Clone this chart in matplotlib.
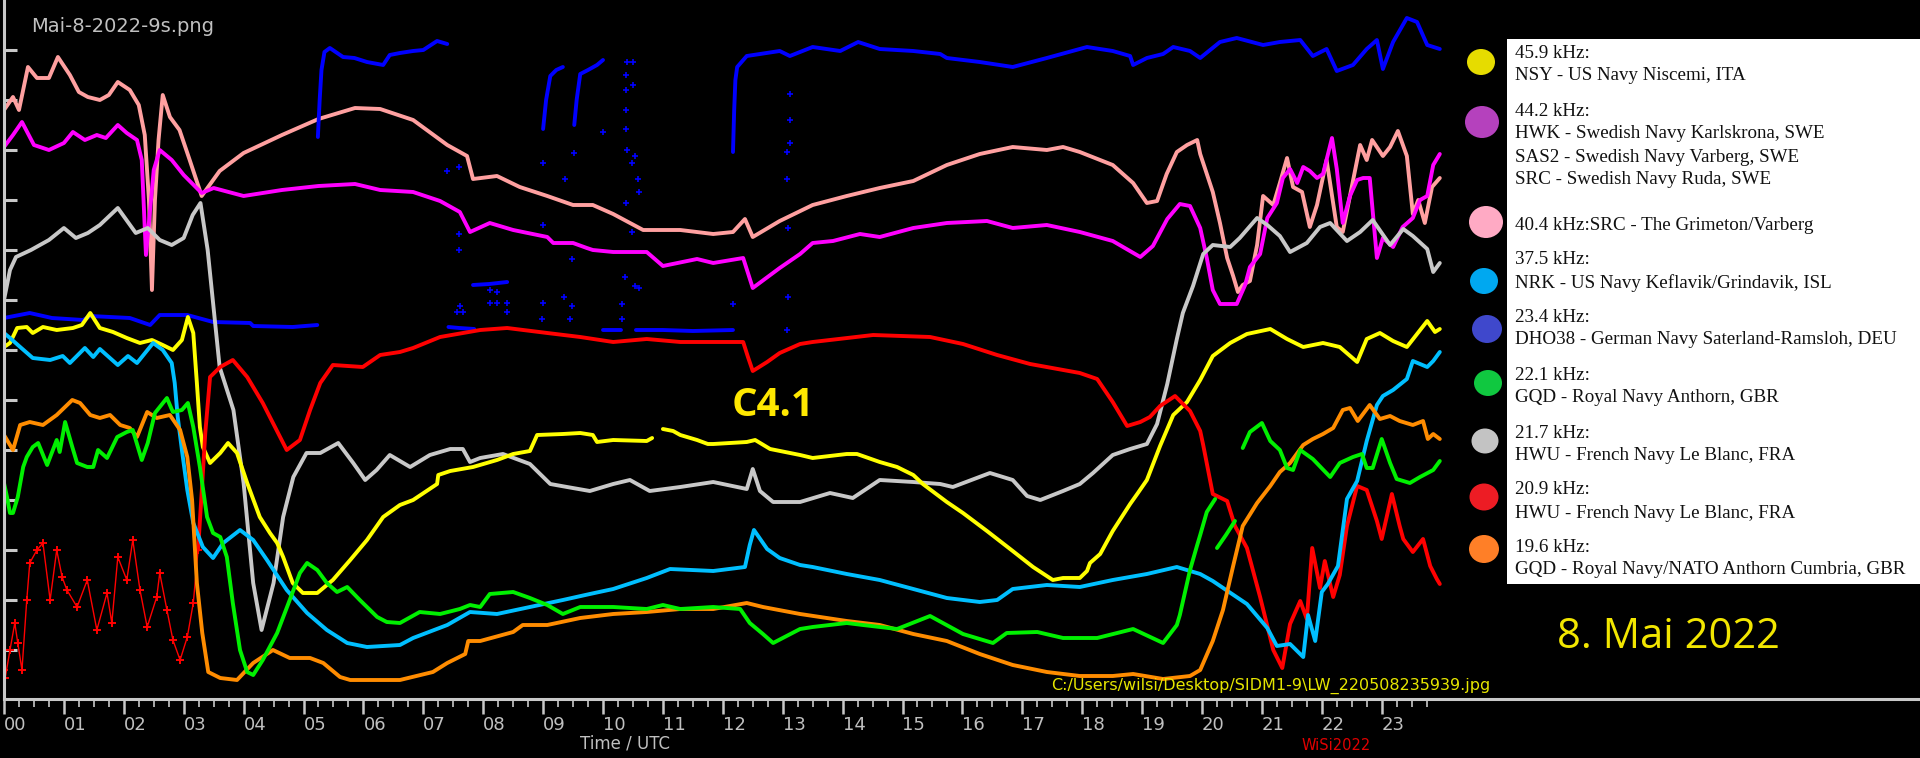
import numpy as np
import matplotlib
matplotlib.use('Agg')
import matplotlib.pyplot as plt
from matplotlib.patches import Rectangle, Ellipse

# VLF signal strength, 8 May 2022 -- relative level (no units on the axis), time in UTC hours

# 40.4 kHz SRC Grimeton (salmon)
pink_h = [0.0, 0.15, 0.25, 0.4, 0.55, 0.75, 0.9, 1.1, 1.25, 1.4, 1.6, 1.75, 1.9, 2.1, 2.25, 2.35, 2.42, 2.47, 2.52, 2.58,
          2.65, 2.77, 2.93, 3.1, 3.3, 3.6, 4.0, 4.64, 5.25, 5.86, 6.28, 6.83, 7.4, 7.73, 7.83, 8.23, 8.61, 9.07, 9.5, 9.83,
          10.17, 10.67, 11.29, 11.84, 12.17, 12.37, 12.5, 12.95, 13.5, 14.07, 14.62, 15.18, 15.74, 16.29, 16.84, 17.41, 17.68, 17.96, 18.51, 18.85,
          19.08, 19.25, 19.41, 19.58, 19.75, 19.92, 19.97, 20.18, 20.3, 20.42, 20.52, 20.6, 20.68, 20.8, 20.92, 21.02, 21.19, 21.3, 21.42, 21.52,
          21.67, 21.8, 21.92, 22.08, 22.25, 22.35, 22.47, 22.64, 22.75, 22.84, 23.02, 23.14, 23.27, 23.42, 23.52, 23.61, 23.72, 23.84, 23.97]
pink_v = [590, 603, 590, 633, 622, 622, 643, 625, 608, 603, 600, 605, 618, 610, 595, 565, 500, 410, 500, 560,
          605, 583, 570, 540, 504, 529, 547, 565, 581, 592, 591, 580, 555, 544, 521, 524, 513, 504, 495, 495,
          486, 470, 470, 466, 468, 481, 463, 479, 495, 504, 512, 519, 535, 546, 553, 550, 553, 548, 535, 517,
          497, 499, 526, 548, 555, 560, 546, 508, 477, 442, 424, 408, 415, 419, 455, 504, 495, 517, 542, 513,
          508, 473, 495, 540, 473, 468, 504, 555, 540, 560, 544, 553, 569, 544, 486, 500, 477, 513, 522]

# 44.2 kHz HWK / SAS2 / SRC (magenta)
mag_h = [0.0, 0.15, 0.3, 0.5, 0.75, 1.0, 1.15, 1.35, 1.55, 1.7, 1.9, 2.05, 2.22, 2.3, 2.37, 2.5, 2.6, 2.8, 3.0, 3.3,
         3.5, 4.0, 4.64, 5.25, 5.86, 6.28, 6.83, 7.28, 7.61, 7.78, 8.11, 8.5, 9.07, 9.17, 9.5, 9.73, 9.83, 10.17, 10.73, 11.0,
         11.57, 11.84, 12.34, 12.5, 12.95, 13.29, 13.5, 13.84, 14.29, 14.62, 15.18, 15.74, 16.41, 16.84, 17.41, 17.96, 18.51, 18.97, 19.18, 19.42,
         19.63, 19.8, 19.97, 20.08, 20.18, 20.3, 20.58, 20.72, 20.8, 20.97, 21.09, 21.25, 21.35, 21.47, 21.59, 21.69, 21.8, 21.92, 22.02, 22.17,
         22.25, 22.35, 22.47, 22.59, 22.69, 22.8, 22.92, 23.02, 23.19, 23.35, 23.52, 23.64, 23.76, 23.86, 23.97]
mag_v = [553, 565, 578, 555, 550, 557, 568, 560, 565, 562, 575, 567, 560, 540, 445, 530, 550, 540, 525, 507,
         512, 504, 510, 514, 516, 510, 508, 499, 488, 468, 477, 470, 463, 457, 457, 452, 450, 448, 448, 434,
         441, 437, 442, 412, 432, 446, 457, 459, 466, 463, 472, 477, 479, 472, 475, 468, 459, 443, 454, 481,
         496, 494, 472, 442, 410, 396, 396, 415, 433, 446, 482, 497, 522, 531, 517, 533, 529, 522, 526, 562,
         531, 477, 504, 520, 522, 522, 442, 462, 453, 473, 482, 500, 504, 535, 546]

# 23.4 kHz DHO38 (blue) - several pieces plus loose points
blue_a_h = [0, 0.43, 0.8, 1.32, 1.44, 1.77, 2.1, 2.44, 2.6, 3.06, 3.49, 4.11, 4.16, 4.82, 5.23]
blue_a_v = [382, 387, 382, 380, 384, 383, 382, 375, 385, 385, 378, 377, 374, 373, 375]
blue_b_h = [5.24, 5.27, 5.3, 5.35, 5.44, 5.66, 5.85, 6.06, 6.33, 6.44, 6.61, 6.83, 7.0, 7.23, 7.4]
blue_b_v = [563, 600, 630, 648, 652, 643, 642, 638, 635, 645, 647, 649, 650, 659, 656]
blue_c1_h = [7.42, 7.6, 7.85]
blue_c1_v = [373, 372, 371]
blue_c2_h = [7.83, 8.1, 8.4]
blue_c2_v = [415, 416, 418]
blue_c3_h = [9.0, 9.05, 9.12, 9.22, 9.33]
blue_c3_v = [571, 600, 624, 630, 633]
blue_c4_h = [9.52, 9.56, 9.62, 9.75, 9.9, 10.0]
blue_c4_v = [575, 600, 626, 630, 635, 640]
blue_c5_h = [10.0, 10.3]
blue_c5_v = [370, 370]
blue_c6_h = [10.55, 11.0, 11.5, 12.17]
blue_c6_v = [370, 370, 369, 370]
blue_d_h = [12.17, 12.19, 12.21, 12.24, 12.4, 12.95, 13.12, 13.5, 13.96, 14.26, 14.62, 15.18, 15.63, 15.74, 16.29, 16.84, 17.41, 18.08, 18.51, 18.8,
            18.85, 19.08, 19.35, 19.52, 19.8, 19.97, 20.3, 20.58, 21.02, 21.3, 21.64, 21.85, 22.08, 22.25, 22.52, 22.75, 22.92, 23.02, 23.19, 23.42,
            23.59, 23.76, 23.97]
blue_d_v = [548, 590, 620, 633, 644, 649, 644, 653, 649, 658, 651, 649, 646, 642, 638, 633, 642, 653, 649, 644,
            635, 642, 646, 653, 649, 642, 658, 662, 655, 658, 660, 644, 651, 629, 635, 651, 660, 631, 658, 682,
            678, 655, 651]
blue_pts_h = [7.4, 7.6, 7.6, 7.6, 7.56, 7.61, 7.66, 8.11, 8.11, 8.23, 8.23, 8.4, 8.4, 9.0, 9.0, 8.98, 9.0, 9.37, 9.35, 9.48,
              9.48, 9.45, 9.52, 10.0, 10.32, 10.32, 10.38, 10.38, 10.38, 10.38, 10.4, 10.4, 10.38, 10.48, 10.53, 10.58, 10.6, 10.48, 10.37, 10.53,
              10.6, 10.5, 10.5, 12.17, 13.12, 13.12, 13.12, 13.07, 13.07, 13.09, 13.09, 13.07]
blue_pts_v = [529, 533, 466, 450, 388, 394, 388, 410, 397, 408, 397, 397, 388, 475, 537, 381, 397, 521, 403, 441,
              394, 381, 547, 568, 396, 381, 571, 590, 610, 625, 638, 550, 497, 537, 544, 521, 508, 468, 423, 414,
              412, 638, 615, 396, 606, 580, 557, 548, 521, 472, 403, 370]

# 21.7 kHz HWU (grey)
grey_h = [0, 0.1, 0.2, 0.45, 0.75, 1.0, 1.2, 1.4, 1.6, 1.9, 2.2, 2.4, 2.6, 2.8, 3.0, 3.15, 3.28, 3.4, 3.6, 3.83,
          4.0, 4.16, 4.3, 4.5, 4.66, 4.83, 5.05, 5.28, 5.58, 5.83, 6.03, 6.22, 6.44, 6.78, 7.11, 7.45, 7.66, 7.78, 7.95, 8.33,
          8.78, 9.12, 9.4, 9.78, 10.17, 10.45, 10.78, 11.29, 11.84, 12.4, 12.5, 12.62, 12.84, 13.29, 13.79, 14.17, 14.62, 15.18, 15.63, 15.84,
          16.46, 16.84, 17.08, 17.3, 17.68, 17.96, 18.18, 18.51, 18.8, 19.08, 19.25, 19.42, 19.58, 19.68, 19.85, 20.02, 20.18, 20.47, 20.63, 20.92,
          21.09, 21.3, 21.47, 21.75, 21.97, 22.14, 22.42, 22.64, 22.85, 23.14, 23.36, 23.52, 23.76, 23.86, 23.97]
grey_v = [400, 430, 443, 450, 460, 472, 462, 467, 475, 492, 467, 472, 460, 455, 462, 485, 497, 450, 333, 290,
          217, 117, 70, 117, 183, 223, 247, 247, 257, 237, 220, 230, 245, 233, 245, 251, 251, 238, 242, 246,
          236, 216, 213, 209, 216, 220, 209, 213, 218, 211, 231, 209, 198, 198, 207, 202, 220, 218, 216, 213,
          227, 220, 204, 200, 209, 216, 227, 245, 251, 256, 276, 316, 361, 387, 414, 446, 455, 453, 462, 482,
          475, 464, 448, 457, 473, 477, 459, 468, 480, 455, 471, 464, 451, 428, 437]

# 45.9 kHz NSY (yellow), nan = gap in the record
yel_h = [0, 0.1, 0.22, 0.38, 0.48, 0.65, 0.88, 1.15, 1.3, 1.44, 1.6, 1.82, 2.05, 2.27, 2.47, 2.65, 2.82, 2.97, 3.07, 3.16,
         3.22, 3.27, 3.32, 3.44, 3.61, 3.74, 3.89, 4.06, 4.27, 4.44, 4.56, 4.66, 4.82, 4.99, 5.23, 5.49, 5.78, 6.06, 6.33, 6.61,
         6.83, 7.23, 7.25, 7.45, 7.83, 8.23, 8.5, 8.78, 8.9, 9.33, 9.62, 9.83, 9.9, 10.17, 10.73, 10.82, 10.9, 11.0, 11.17, 11.29,
         11.57, 11.75, 11.84, 12.4, 12.54, 12.79, 13.29, 13.5, 14.07, 14.24, 14.62, 14.91, 15.18, 15.34, 15.74, 16.01, 16.41, 16.84, 17.18, 17.51,
         17.68, 17.96, 18.08, 18.13, 18.3, 18.51, 18.8, 18.93, 19.08, 19.3, 19.52, 19.75, 19.97, 20.18, 20.47, 20.75, 21.14, 21.42, 21.69, 22.02,
         22.3, 22.59, 22.75, 22.97, 23.19, 23.42, 23.59, 23.76, 23.89, 23.97]
yel_v = [353, 357, 372, 373, 367, 373, 370, 372, 375, 387, 372, 368, 362, 357, 360, 355, 350, 360, 383, 367,
         317, 273, 253, 237, 247, 257, 247, 217, 183, 167, 157, 143, 117, 107, 107, 120, 140, 160, 183, 195,
         200, 216, 225, 229, 233, 240, 246, 249, 265, 266, 267, 265, 258, 260, 259, 262, np.nan, 271, 269, 265,
         260, 256, 256, 258, 260, 251, 245, 242, 246, 246, 238, 233, 225, 216, 198, 187, 169, 149, 133, 120,
         122, 122, 129, 137, 146, 169, 196, 207, 220, 254, 285, 298, 320, 344, 357, 366, 371, 361, 353, 357,
         353, 338, 361, 367, 359, 353, 366, 379, 368, 371]

# 20.9 kHz HWU (red)
red_h = [0, 0.02, 0.1, 0.18, 0.23, 0.3, 0.38, 0.43, 0.55, 0.65, 0.77, 0.88, 0.97, 1.05, 1.22, 1.39, 1.55, 1.72, 1.8, 1.9,
         2.05, 2.15, 2.27, 2.39, 2.55, 2.6, 2.72, 2.82, 2.94, 3.06, 3.16, 3.24, 3.31, 3.36, 3.44, 3.61, 3.82, 4.06, 4.32, 4.49,
         4.72, 4.94, 5.11, 5.28, 5.49, 5.99, 6.28, 6.61, 6.83, 7.28, 7.95, 8.4, 9.07, 9.62, 10.17, 10.73, 11.29, 11.84, 12.34, 12.42,
         12.5, 12.74, 12.95, 13.29, 13.5, 14.51, 15.46, 16.01, 16.58, 17.13, 17.96, 18.25, 18.51, 18.75, 18.97, 19.13, 19.3, 19.55, 19.8, 19.97,
         20.02, 20.18, 20.42, 20.55, 20.75, 20.97, 21.19, 21.34, 21.47, 21.64, 21.75, 21.84, 21.97, 22.05, 22.19, 22.3, 22.42, 22.59, 22.75, 22.92,
         23.0, 23.17, 23.3, 23.36, 23.52, 23.69, 23.81, 23.92, 23.97]
red_v = [30, 22, 50, 77, 57, 30, 100, 137, 150, 157, 100, 150, 123, 110, 93, 120, 70, 107, 77, 143,
         120, 160, 110, 73, 103, 127, 90, 60, 40, 63, 97, 150, 217, 267, 323, 333, 340, 323, 297, 277,
         250, 260, 290, 317, 335, 333, 345, 348, 352, 363, 370, 372, 367, 363, 358, 361, 358, 358, 358, 343,
         329, 338, 347, 356, 358, 365, 363, 356, 345, 336, 327, 321, 298, 274, 278, 283, 294, 304, 289, 269,
         255, 206, 199, 174, 152, 103, 50, 32, 76, 99, 81, 152, 112, 139, 103, 125, 174, 214, 210, 179,
         161, 206, 174, 161, 148, 161, 134, 121, 116]

# 37.5 kHz NRK (light blue)
cyan_h = [0, 0.1, 0.27, 0.48, 0.77, 0.98, 1.1, 1.35, 1.49, 1.6, 1.9, 2.07, 2.22, 2.49, 2.65, 2.8, 2.85, 2.9, 2.97, 3.06,
          3.16, 3.32, 3.49, 3.66, 3.94, 4.16, 4.39, 4.72, 5.06, 5.39, 5.73, 6.06, 6.61, 6.83, 7.4, 7.78, 8.23, 8.78, 9.33, 9.78,
          10.17, 10.73, 11.12, 11.84, 12.37, 12.45, 12.52, 12.74, 12.95, 13.29, 13.5, 14.07, 14.62, 15.18, 15.74, 16.29, 16.58, 16.84, 17.41, 17.96,
          18.51, 19.08, 19.58, 19.97, 20.18, 20.75, 21.09, 21.25, 21.47, 21.69, 21.77, 21.89, 22.0, 22.1, 22.27, 22.42, 22.59, 22.75, 22.92, 23.02,
          23.19, 23.42, 23.52, 23.76, 23.86, 23.97]
cyan_v = [367, 362, 353, 342, 340, 344, 337, 352, 343, 351, 335, 344, 337, 357, 350, 337, 317, 283, 250, 210,
          177, 153, 142, 157, 170, 160, 140, 110, 87, 70, 57, 53, 55, 62, 75, 88, 86, 93, 100, 106,
          111, 122, 131, 129, 133, 155, 170, 151, 142, 135, 133, 126, 120, 111, 102, 98, 100, 111, 115, 113,
          120, 126, 133, 126, 119, 96, 72, 54, 56, 43, 85, 59, 108, 116, 134, 201, 219, 259, 295, 304,
          310, 321, 339, 333, 339, 348]

# 19.6 kHz GQD (orange)
orange_h = [0, 0.15, 0.27, 0.43, 0.65, 0.88, 1.14, 1.27, 1.44, 1.6, 1.77, 1.94, 2.1, 2.22, 2.39, 2.55, 2.77, 2.94, 3.06, 3.14,
            3.22, 3.31, 3.41, 3.61, 3.89, 4.16, 4.49, 4.77, 5.11, 5.33, 5.61, 5.78, 6.61, 7.16, 7.4, 7.7, 7.75, 7.95, 8.5, 8.66,
            9.07, 9.62, 10.17, 10.73, 11.29, 11.84, 12.4, 12.67, 13.29, 14.07, 14.62, 15.18, 15.74, 16.29, 16.84, 17.41, 17.96, 18.51, 18.85, 19.35,
            19.8, 19.97, 20.18, 20.35, 20.52, 20.68, 20.92, 21.14, 21.3, 21.47, 21.69, 21.85, 22.02, 22.19, 22.35, 22.47, 22.6, 22.8, 22.97, 23.14,
            23.3, 23.52, 23.69, 23.77, 23.86, 23.97]
orange_v = [265, 250, 275, 278, 275, 285, 300, 297, 285, 282, 285, 275, 272, 263, 288, 282, 285, 270, 243, 200,
            117, 67, 28, 22, 20, 37, 50, 42, 42, 37, 23, 20, 20, 28, 37, 46, 59, 59, 68, 75,
            75, 82, 86, 88, 91, 91, 97, 93, 86, 79, 75, 66, 59, 46, 35, 28, 24, 24, 26, 21,
            24, 30, 59, 90, 134, 174, 197, 214, 228, 237, 255, 261, 266, 272, 290, 292, 279, 295, 281, 284,
            279, 275, 279, 261, 266, 261]

# 22.1 kHz GQD (green) - main run, short piece, evening run
green_a_h = [0, 0.05, 0.1, 0.15, 0.23, 0.32, 0.38, 0.48, 0.57, 0.72, 0.88, 0.93, 1.02, 1.14, 1.22, 1.39, 1.49, 1.57, 1.72, 1.89,
             2.05, 2.15, 2.3, 2.4, 2.52, 2.72, 2.82, 2.97, 3.07, 3.16, 3.27, 3.39, 3.49, 3.61, 3.72, 3.82, 3.94, 4.06, 4.16, 4.32,
             4.56, 4.77, 4.94, 5.06, 5.23, 5.39, 5.56, 5.73, 5.94, 6.23, 6.39, 6.61, 6.94, 7.28, 7.61, 7.78, 7.95, 8.11, 8.5, 8.78,
             9.07, 9.33, 9.62, 10.17, 10.73, 11.0, 11.29, 11.84, 12.29, 12.45, 12.67, 12.84, 13.29, 13.5, 14.07, 14.34, 14.91, 15.46, 16.01, 16.51,
             16.74, 17.25, 17.68, 18.25, 18.85, 19.35, 19.58, 19.63, 19.8, 19.92, 19.97, 20.08, 20.22]
green_a_v = [217, 203, 187, 187, 203, 233, 243, 253, 257, 235, 260, 248, 278, 253, 237, 233, 233, 250, 242, 263,
             268, 270, 240, 257, 287, 302, 288, 290, 297, 273, 233, 183, 167, 163, 143, 97, 50, 28, 25, 40,
             67, 100, 127, 137, 130, 117, 108, 113, 100, 83, 78, 77, 88, 86, 91, 95, 93, 106, 108, 102,
             95, 86, 93, 93, 91, 95, 91, 93, 91, 77, 66, 57, 71, 73, 77, 75, 71, 84, 66, 57,
             67, 68, 62, 62, 71, 57, 75, 85, 130, 155, 165, 188, 201]
green_b_h = [20.25, 20.4, 20.55]
green_b_v = [152, 165, 179]
green_c_h = [20.68, 20.8, 21.0, 21.14, 21.3, 21.42, 21.52, 21.64, 21.85, 22.14, 22.3, 22.52, 22.67, 22.75, 22.85, 23.0, 23.14, 23.25, 23.47, 23.64,
             23.86, 23.97]
green_c_v = [252, 268, 277, 259, 250, 232, 230, 250, 241, 223, 237, 243, 246, 232, 232, 261, 237, 221, 217, 223,
             230, 239]

hours = [f'{h:02d}' for h in range(24)]

legend_dots = ['#e6dc00', '#b541bd', '#ffaac4', '#00a8f0', '#3f48cc', '#10c840', '#c3c3c3', '#ed1c24', '#ff7f27']
legend_text = [
    ['45.9 kHz:', 'NSY - US Navy Niscemi, ITA'],
    ['44.2 kHz:', 'HWK - Swedish Navy Karlskrona, SWE', 'SAS2 - Swedish Navy Varberg, SWE', 'SRC - Swedish Navy Ruda, SWE'],
    ['40.4 kHz:SRC - The Grimeton/Varberg'],
    ['37.5 kHz:', 'NRK - US Navy Keflavik/Grindavik, ISL'],
    ['23.4 kHz:', 'DHO38 - German Navy Saterland-Ramsloh, DEU'],
    ['22.1 kHz:', 'GQD - Royal Navy Anthorn, GBR'],
    ['21.7 kHz:', 'HWU - French Navy Le Blanc, FRA'],
    ['20.9 kHz:', 'HWU - French Navy Le Blanc, FRA'],
    ['19.6 kHz:', 'GQD - Royal Navy/NATO Anthorn Cumbria, GBR'],
]

# ---- figure: black canvas, axes aligned with the pixel grid of the original
W, H = 1920, 758
fig = plt.figure(figsize=(W / 100, H / 100), dpi=100, facecolor='black')
ax = fig.add_axes([4 / W, 1 - 699 / H, (W - 4) / W, 699 / H])
ax.set_facecolor('black')
ax.set_xlim(0, (W - 4) / 59.9)
ax.set_ylim(1, 700)

axis_grey = '#c8c8c8'
lw = 2.8

def seg(x, y, c, z=2):
    ax.plot(x, y, color=c, lw=lw, solid_capstyle='round', solid_joinstyle='round', zorder=z)

seg(pink_h, pink_v, '#ffa0a0')
seg(mag_h, mag_v, '#ff00ff')
for bx, by in [(blue_a_h, blue_a_v), (blue_b_h, blue_b_v), (blue_c1_h, blue_c1_v), (blue_c2_h, blue_c2_v),
               (blue_c3_h, blue_c3_v), (blue_c4_h, blue_c4_v), (blue_c5_h, blue_c5_v), (blue_c6_h, blue_c6_v),
               (blue_d_h, blue_d_v)]:
    seg(bx, by, '#0000ff')
ax.plot(blue_pts_h, blue_pts_v, '+', color='#0000ff', ms=4, mew=1.2, ls='none')
seg(grey_h, grey_v, '#c8c8c8')
seg(yel_h, yel_v, '#ffff00')
# the early-morning red record is a loose cloud of points: thin line with cross markers
n_early = 31
ax.plot(red_h[:n_early + 1], red_v[:n_early + 1], color='#ff0000', lw=1.0, marker='+', ms=6, mew=1.4, zorder=2)
seg(red_h[n_early:], red_v[n_early:], '#ff0000')
seg(cyan_h, cyan_v, '#00bfff')
seg(orange_h, orange_v, '#ff8c00')
seg(green_a_h, green_a_v, '#00f000')
seg(green_b_h, green_b_v, '#00f000')
seg(green_c_h, green_c_v, '#00f000')

# axes frame: only left and bottom, light grey
for s in ['top', 'right']:
    ax.spines[s].set_visible(False)
for s in ['left', 'bottom']:
    ax.spines[s].set_color(axis_grey)
    ax.spines[s].set_linewidth(2.2)

ax.set_yticks(np.arange(50, 700, 50))
ax.set_yticklabels([])
ax.tick_params(axis='y', direction='in', length=9.5, width=2.2, color=axis_grey)

ax.set_xticks(range(24))
ax.set_xticklabels(hours, ha='left', color='#c0c0c0', fontsize=13)
ax.set_xticks(np.arange(0, 24, 0.25), minor=True)
ax.tick_params(axis='x', which='major', direction='out', length=11, width=1.8, color=axis_grey, pad=1)
ax.tick_params(axis='x', which='minor', direction='out', length=6, width=1.2, color=axis_grey)

# ---- overlay in pixel coordinates for text, legend box and date
ov = fig.add_axes([0, 0, 1, 1])
ov.set_xlim(0, W)
ov.set_ylim(H, 0)
ov.axis('off')
ov.patch.set_alpha(0)

ov.text(31, 26, 'Mai-8-2022-9s.png', color='#c0c0c0', fontsize=14, va='center')
ov.text(732, 405, 'C4.1', family='Open Sans', weight='bold', fontsize=29, color='#ffe800', va='center')
ov.text(1051, 686, r'C:/Users/wilsi/Desktop/SIDM1-9\LW_220508235939.jpg', color='#e6e600', fontsize=11.5, va='center')
ov.text(580, 743, 'Time / UTC', color='#c0c0c0', fontsize=12, va='center')
ov.text(1302, 745, 'WiSi2022', color='#e00000', fontsize=10.5, va='center')
ov.text(1668, 637, '8. Mai 2022', family='Open Sans', fontsize=30, color='#f2e600', ha='center', va='center')

ov.add_patch(Rectangle((1507, 39), W - 1507, 545, facecolor='white', edgecolor='none'))
dot_xy = [(1481, 62, 13), (1482, 122, 16), (1486, 222, 16), (1484, 281, 13), (1487, 329, 14),
          (1488, 383, 13), (1485, 441, 12.5), (1484, 497, 13.5), (1484, 549, 14)]
text_y = [[53, 76], [111, 134, 157, 180], [226], [260, 283], [317, 340],
          [375, 397], [433, 455], [490, 513], [547, 570]]
for c, (x, y, r), lines, ys in zip(legend_dots, dot_xy, legend_text, text_y):
    ov.add_patch(Ellipse((x, y), 2 * r + 2, 2 * r, facecolor=c, edgecolor='none'))
    for t, ty in zip(lines, ys):
        ov.text(1515, ty, t, family='Liberation Serif', fontsize=13.7, color='#111111', va='center')

plt.savefig('out.png', dpi=100, facecolor='black')
